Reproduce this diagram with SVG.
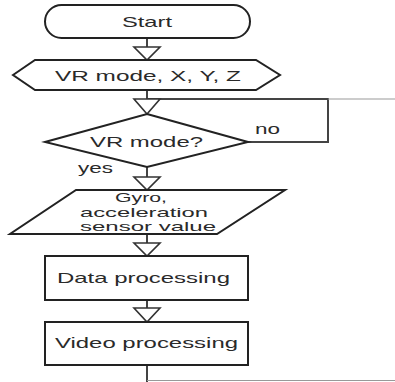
<svg xmlns="http://www.w3.org/2000/svg" width="395" height="382" viewBox="0 0 395 382">
<style>
.s{fill:#fff;stroke:#222;stroke-width:2}
.t{font-family:"Liberation Sans",Arial,sans-serif;font-size:15px;fill:#2a2a2a}
.m{font-size:13px}
.c{fill:none;stroke:#444;stroke-width:2}
.f{fill:none;stroke:#999;stroke-width:1}
.a{fill:#fff;stroke:#333;stroke-width:1.6}
</style>
<rect width="395" height="382" fill="#fff"/>
<g id="connectors">
<line class="c" x1="147" y1="38" x2="147" y2="47"/>
<polygon class="a" points="134,47 160,47 147,60"/>
<line class="c" x1="147" y1="90" x2="147" y2="99"/>
<polyline class="c" points="147,99 328,99 328,142 248,142"/>
<line class="f" x1="328" y1="99" x2="395" y2="99"/>
<polygon class="a" points="134,99 160,99 147,114"/>
<line class="c" x1="147" y1="167" x2="147" y2="177"/>
<polygon class="a" points="134,177 160,177 147,190"/>
<line class="c" x1="147" y1="234" x2="147" y2="243"/>
<polygon class="a" points="134,243 160,243 147,256"/>
<line class="c" x1="147" y1="300" x2="147" y2="308"/>
<polygon class="a" points="134,308 160,308 147,322"/>
<line class="c" x1="147" y1="365" x2="147" y2="382"/>
<line class="f" x1="147" y1="380.5" x2="395" y2="380.5"/>
<text class="t" x="255" y="134" textLength="25" lengthAdjust="spacingAndGlyphs">no</text>
<text class="t" x="78" y="173" textLength="35" lengthAdjust="spacingAndGlyphs">yes</text>
</g>
<g id="start">
<rect class="s" x="45" y="5" width="205" height="33" rx="16.5"/>
<text class="t" x="122" y="27" textLength="50" lengthAdjust="spacingAndGlyphs">Start</text>
</g>
<g id="input">
<polygon class="s" points="13,75 35,60 256,60 280,75 256,90 35,90"/>
<text class="t" x="55" y="81" textLength="186" lengthAdjust="spacingAndGlyphs">VR mode, X, Y, Z</text>
</g>
<g id="decision">
<polygon class="s" points="147,114 248,142 147,167 45,142"/>
<text class="t" x="90" y="147" textLength="113" lengthAdjust="spacingAndGlyphs">VR mode?</text>
</g>
<g id="sensor">
<polygon class="s" points="76,190 285,190 217,234 10,234"/>
<text class="t m" x="115" y="202" textLength="52" lengthAdjust="spacingAndGlyphs">Gyro,</text>
<text class="t m" x="80" y="216.5" textLength="128" lengthAdjust="spacingAndGlyphs">acceleration</text>
<text class="t m" x="80" y="231" textLength="136" lengthAdjust="spacingAndGlyphs">sensor value</text>
</g>
<g id="data">
<rect class="s" x="45" y="256" width="203" height="44"/>
<text class="t" x="57" y="283" textLength="173" lengthAdjust="spacingAndGlyphs">Data processing</text>
</g>
<g id="video">
<rect class="s" x="45" y="322" width="203" height="43"/>
<text class="t" x="55" y="348" textLength="183" lengthAdjust="spacingAndGlyphs">Video processing</text>
</g>
</svg>
